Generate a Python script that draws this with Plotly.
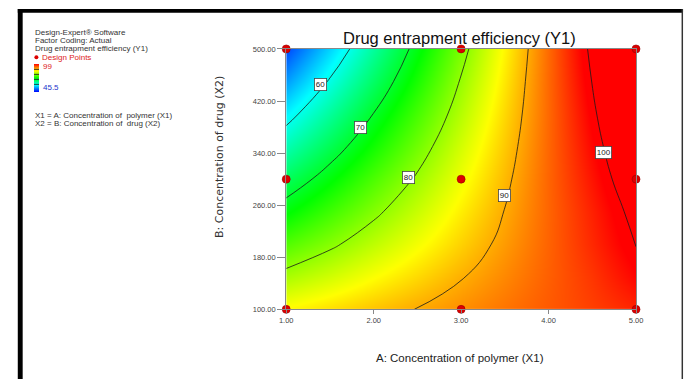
import plotly.graph_objects as go

# Factor levels of the response-surface grid
conc_polymer = [1.0, 1.5, 2.0, 2.5, 3.0, 3.5, 4.0, 4.5, 5.0]          # A (X1)
conc_drug = [100, 150, 200, 250, 300, 350, 400, 450, 500]              # B (X2)

# Predicted drug entrapment efficiency (Y1), one row per drug level
entrapment = [
    [85.9, 87.3, 88.7, 90.1, 91.5, 92.9, 94.3, 95.7, 97.1],
    [81.2, 83.3, 85.5, 87.6, 89.8, 91.9, 94.0, 96.2, 98.8],
    [76.5, 79.3, 82.2, 85.1, 88.0, 90.9, 93.8, 96.9, 100.1],
    [71.9, 75.6, 79.2, 82.8, 86.5, 90.1, 93.7, 97.3, 101.0],
    [67.4, 71.8, 76.2, 80.5, 84.9, 89.3, 93.7, 98.0, 102.4],
    [62.9, 68.0, 73.1, 78.2, 83.4, 88.5, 93.6, 98.7, 103.8],
    [58.4, 64.2, 70.1, 75.9, 81.8, 87.7, 93.5, 99.4, 105.3],
    [53.8, 60.4, 67.0, 73.6, 80.3, 86.9, 93.5, 100.1, 106.7],
    [49.3, 56.7, 64.0, 71.4, 78.7, 86.1, 93.4, 100.8, 108.1],
]

# Design points of the 3x3 factorial design
design_A = [1, 3, 5, 1, 3, 5, 1, 3, 5]
design_B = [100, 100, 100, 300, 300, 300, 500, 500, 500]

# Observed response range shown on the colour key
y_min, y_max = 45.5, 99

# Contour levels and where their labels sit
contour_levels = [60, 70, 80, 90, 100]
label_A = [1.39, 1.85, 2.40, 3.50, 4.63]
label_B = [446, 380, 303, 275, 341]

x_ticks = [1, 2, 3, 4, 5]
y_ticks = [100, 180, 260, 340, 420, 500]

W, H = 692, 384
FONT = "Arial, Liberation Sans, sans-serif"


def px(x):
    return x / W


def py(y):
    return 1 - y / H


colorscale = [
    [0.0, "#0000ff"],
    [0.25, "#00ffff"],
    [0.5, "#00ff00"],
    [0.75, "#ffff00"],
    [1.0, "#ff0000"],
]

fig = go.Figure()

fig.add_trace(go.Contour(
    x=conc_polymer, y=conc_drug, z=entrapment,
    zmin=y_min, zmax=y_max, zauto=False,
    colorscale=colorscale,
    autocontour=False,
    contours=dict(start=min(contour_levels), end=max(contour_levels),
                  size=contour_levels[1] - contour_levels[0],
                  coloring="heatmap", showlabels=False),
    line=dict(color="#1a1a1a", width=0.8, smoothing=1.3),
    showscale=True,
    colorbar=dict(
        x=px(28), xanchor="left", y=py(76), yanchor="middle",
        lenmode="pixels", len=28, thicknessmode="pixels", thickness=5,
        xpad=0, ypad=0, outlinewidth=0, showticklabels=False, ticks="",
    ),
    hoverinfo="skip",
))

fig.add_trace(go.Scatter(
    x=design_A, y=design_B, mode="markers",
    marker=dict(color="#dd0000", size=8, line=dict(color="#990000", width=0.6)),
    cliponaxis=False, showlegend=False, hoverinfo="skip",
))

annotations = []

# Boxed contour labels
for lvl, a, b in zip(contour_levels, label_A, label_B):
    annotations.append(dict(
        x=a, y=b, xref="x", yref="y", text=str(lvl), showarrow=False,
        xanchor="center", yanchor="middle",
        font=dict(family=FONT, size=8, color="#222"),
        bgcolor="white", bordercolor="#444", borderwidth=0.8, borderpad=1,
    ))

# Chart and axis titles
annotations.append(dict(
    x=px(462), y=py(35), xref="paper", yref="paper",
    xanchor="center", yanchor="middle",
    text="Drug entrapment efficiency (Y1)", showarrow=False,
    font=dict(family=FONT, size=16.5, color="#111"),
))
annotations.append(dict(
    x=px(462), y=py(362), xref="paper", yref="paper",
    xanchor="center", yanchor="middle",
    text="A: Concentration of polymer (X1)", showarrow=False,
    font=dict(family=FONT, size=11.5, color="#222"),
))
annotations.append(dict(
    x=px(217), y=py(157), xref="paper", yref="paper", textangle=-90,
    xanchor="center", yanchor="middle",
    text="B: Concentration of drug (X2)", showarrow=False,
    font=dict(family="DejaVu Sans, sans-serif", size=11, color="#333"),
))

# Software information block
info_lines = [
    ("Design-Expert® Software", 29.5, "#333"),
    ("Factor Coding: Actual", 37.5, "#333"),
    ("Drug entrapment efficiency (Y1)", 46, "#333"),
    ("X1 = A: Concentration of  polymer (X1)", 114, "#333"),
    ("X2 = B: Concentration of  drug (X2)", 122, "#333"),
]
for txt, ypos, col in info_lines:
    annotations.append(dict(
        x=px(27), y=py(ypos), xref="paper", yref="paper", xanchor="left",
        yanchor="middle", text=txt, showarrow=False,
        font=dict(family=FONT, size=8, color=col),
    ))
annotations.append(dict(
    x=px(34), y=py(54.5), xref="paper", yref="paper", xanchor="left",
    yanchor="middle", text="Design Points", showarrow=False,
    font=dict(family=FONT, size=8, color="#dd2222"),
))
annotations.append(dict(
    x=px(35), y=py(64), xref="paper", yref="paper", xanchor="left",
    yanchor="middle", text=f"{y_max:g}", showarrow=False,
    font=dict(family=FONT, size=8, color="#dd2222"),
))
annotations.append(dict(
    x=px(35), y=py(86), xref="paper", yref="paper", xanchor="left",
    yanchor="middle", text=f"{y_min:g}", showarrow=False,
    font=dict(family=FONT, size=8, color="#2233cc"),
))

shapes = [
    # Outer frame
    dict(type="rect", xref="paper", yref="paper", x0=px(11), x1=px(690),
         y0=py(9), y1=py(5), fillcolor="black", line=dict(width=0), layer="above"),
    dict(type="rect", xref="paper", yref="paper", x0=px(11), x1=px(16),
         y0=py(384), y1=py(5), fillcolor="black", line=dict(width=0), layer="above"),
    dict(type="rect", xref="paper", yref="paper", x0=px(688.5), x1=px(690),
         y0=py(384), y1=py(5), fillcolor="#333", line=dict(width=0), layer="above"),
    # Design-point legend marker
    dict(type="circle", xref="paper", yref="paper", xsizemode="pixel",
         ysizemode="pixel", xanchor=px(30), yanchor=py(54.5),
         x0=-2, x1=2, y0=-2, y1=2, fillcolor="#dd0000", line=dict(width=0)),
]

fig.update_layout(
    width=W, height=H,
    margin=dict(l=0, r=0, t=0, b=0),
    paper_bgcolor="white", plot_bgcolor="white",
    showlegend=False,
    annotations=annotations,
    shapes=shapes,
    xaxis=dict(
        domain=[px(285), px(642)], range=[1, 5],
        tickvals=x_ticks, tickformat=".2f",
        ticks="outside", ticklen=4, tickcolor="#888",
        tickfont=dict(family=FONT, size=7.5, color="#444"),
        showline=True, linecolor="#888", linewidth=1, mirror=True,
        showgrid=False, zeroline=False,
    ),
    yaxis=dict(
        domain=[py(312.7), py(46)], range=[100, 500],
        tickvals=y_ticks, tickformat=".2f",
        ticks="outside", ticklen=8, tickcolor="#888",
        tickfont=dict(family=FONT, size=7.5, color="#444"),
        showline=True, linecolor="#888", linewidth=1, mirror=True,
        showgrid=False, zeroline=False,
    ),
)

fig.write_html("out.html")
